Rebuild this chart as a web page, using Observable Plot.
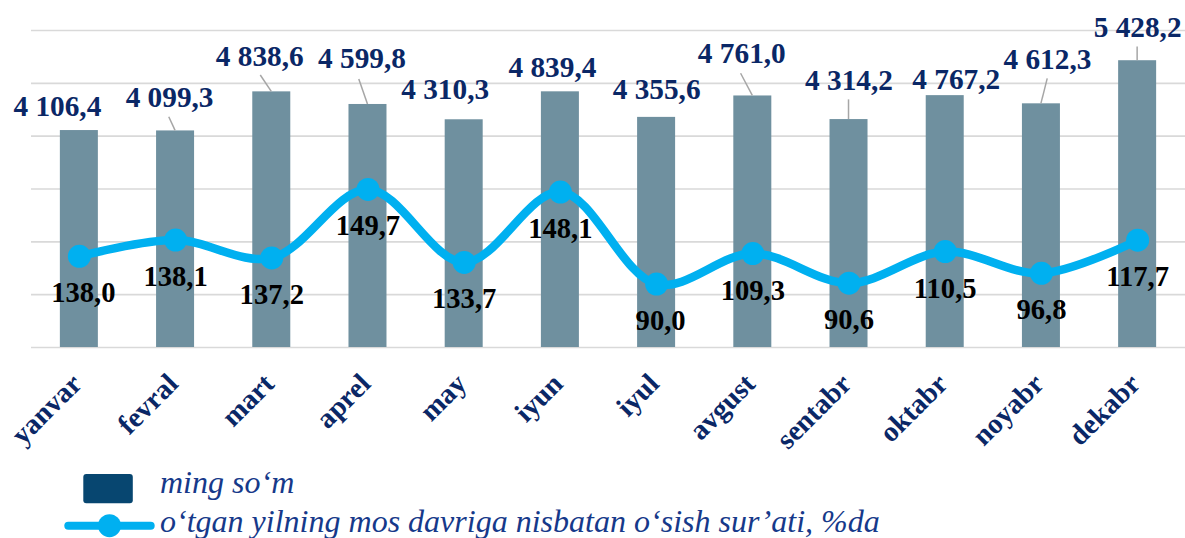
<!DOCTYPE html>
<html>
<head>
<meta charset="utf-8">
<script src="https://cdn.jsdelivr.net/npm/d3@7"></script>
<script src="https://cdn.jsdelivr.net/npm/@observablehq/plot@0.6"></script>
<style>
  html, body { margin: 0; padding: 0; background: #ffffff; }
  #chart { position: relative; width: 1185px; height: 538px; overflow: hidden; background: #fff; }
  #chart svg { display: block; }
</style>
</head>
<body>
<div id="chart"></div>
<script>
// ---------- data ----------
const months = ["yanvar","fevral","mart","aprel","may","iyun","iyul","avgust","sentabr","oktabr","noyabr","dekabr"];
const amount = [4106.4, 4099.3, 4838.6, 4599.8, 4310.3, 4839.4, 4355.6, 4761.0, 4314.2, 4767.2, 4612.3, 5428.2];
// growth rate as printed in the labels
const growthLabel = [138.0, 138.1, 137.2, 149.7, 133.7, 148.1, 90.0, 109.3, 90.6, 110.5, 96.8, 117.7];
// growth line as it is drawn in the picture (secondary axis 50–250)
const growthLine = [107.5, 117.8, 106.5, 149.7, 103.7, 148.1, 90.0, 109.3, 90.6, 110.5, 96.8, 117.7];
const yTicks = [0, 1000, 2000, 3000, 4000, 5000, 6000];
const y2Domain = [50, 250];
const legendLabels = ["ming so‘m", "o‘tgan yilning mos davriga nisbatan o‘sish sur’ati, %da"];

// ---------- layout (pixel nudges for labels, as in the original) ----------
const barLabelDx = [-22, -6, -12, -6, -19, -8, 0, -11, 0, 11, 6, 0];
const barLabelDy = [-15, -24, -26, -36, -21, -15, -18, -33, -30, -7, -35, -24];
const leaderDx = [null, -6.3, -11, -8.7, null, null, null, -11.7, 0, null, 6.3, 0];
const leaderDy = [null, -13.7, -16.4, -25, null, null, null, -22.2, -19.7, null, -25, -13.6];
const lineLabelDx = [4, 0, 0, 0, 0, 0, 4, 0, 0, 0, 0, 0];

// ---------- styles ----------
const barColor = "#6f909f";
const lineColor = "#00b0f0";
const navy = "#0a2766";
const legendText = "#16398a";
const gridColor = "#d9d9d9";
const serif = "Liberation Serif, Times New Roman, serif";

const locale = d3.formatLocale({decimal: ",", thousands: " ", grouping: [3], currency: ["", ""]});
const fmt = locale.format(",.1f");
const fmt1 = locale.format(".1f");

// secondary axis mapped into primary y units
const y2 = d3.scaleLinear().domain(y2Domain).range([yTicks[0], yTicks[yTicks.length - 1]]);

const idx = months.map((_, i) => i);

const barLabelMarks = idx.map(i => Plot.text([i], {
  x: d => months[d], y: d => amount[d], text: d => fmt(amount[d]),
  dx: barLabelDx[i], dy: barLabelDy[i], lineAnchor: "bottom",
  fill: navy, fontSize: 29.3, fontWeight: "bold", fontFamily: serif
}));

const lineLabelMarks = idx.map(i => Plot.text([i], {
  x: d => months[d], y: d => y2(growthLine[d]), text: d => fmt1(growthLabel[d]),
  dx: lineLabelDx[i], dy: 46, lineAnchor: "bottom",
  fill: "#000", fontSize: 28.6, fontWeight: "bold", fontFamily: serif
}));

// leader lines from label to bar top, drawn through the plot's scales
function leaders(index, scales) {
  const x = scales.x, y = scales.y;
  const bw = x.bandwidth ? x.bandwidth() : 0;
  const g = d3.create("svg:g").attr("stroke", "#a6a6a6").attr("stroke-width", 1.5);
  idx.forEach(i => {
    if (leaderDx[i] == null) return;
    const cx = x(months[i]) + bw / 2;
    const top = y(amount[i]);
    g.append("line")
      .attr("x1", cx + leaderDx[i]).attr("y1", top + leaderDy[i])
      .attr("x2", cx).attr("y2", top);
  });
  return g.node();
}

const plot = Plot.plot({
  width: 1185,
  height: 460,
  marginLeft: 31,
  marginRight: 0,
  marginTop: 30,
  marginBottom: 113,
  style: {background: "transparent", fontFamily: serif, overflow: "visible"},
  x: {type: "band", domain: months, paddingInner: 0.605, paddingOuter: 0.3, round: false, axis: null},
  y: {domain: [yTicks[0], yTicks[yTicks.length - 1]], axis: null},
  marks: [
    Plot.ruleY(yTicks, {stroke: gridColor, strokeWidth: 1.6}),
    Plot.barY(idx, {x: i => months[i], y: i => amount[i], fill: barColor}),
    leaders,
    ...barLabelMarks,
    Plot.line(idx, {x: i => months[i], y: i => y2(growthLine[i]), stroke: lineColor, strokeWidth: 8.5, curve: "catmull-rom"}),
    Plot.dot(idx, {x: i => months[i], y: i => y2(growthLine[i]), r: 11.5, fill: lineColor, stroke: "none"}),
    ...lineLabelMarks,
    Plot.text(months, {x: d => d, y: yTicks[0], text: d => d, rotate: -45, textAnchor: "end", lineAnchor: "bottom",
      dx: 4, dy: 38, fill: navy, fontSize: 28.5, fontWeight: "bold", fontFamily: serif})
  ]
});

const chart = document.getElementById("chart");
chart.appendChild(plot);

// legend below the chart; font size chosen so the long label spans the same width as in the original
const ctx = document.createElement("canvas").getContext("2d");
ctx.font = "italic 30px 'Liberation Serif'";
const legendSize = Math.max(26, Math.min(34, 30 * 720 / ctx.measureText(legendLabels[1]).width));

const lg = d3.create("svg").attr("width", 1185).attr("height", 78).style("display", "block");
lg.append("rect").attr("x", 83.3).attr("y", 14).attr("width", 49.5).attr("height", 29.3).attr("rx", 3).attr("fill", "#074670");
lg.append("text").attr("x", 160).attr("y", 33).text(legendLabels[0])
  .attr("fill", legendText).attr("font-family", serif).attr("font-style", "italic").attr("font-size", legendSize);
lg.append("line").attr("x1", 68.3).attr("x2", 150.7).attr("y1", 65.7).attr("y2", 65.7)
  .attr("stroke", lineColor).attr("stroke-width", 8).attr("stroke-linecap", "round");
lg.append("circle").attr("cx", 109.5).attr("cy", 65.7).attr("r", 11.5).attr("fill", lineColor);
lg.append("text").attr("x", 160).attr("y", 71.5).text(legendLabels[1])
  .attr("fill", legendText).attr("font-family", serif).attr("font-style", "italic").attr("font-size", legendSize);
chart.appendChild(lg.node());
</script>
</body>
</html>
